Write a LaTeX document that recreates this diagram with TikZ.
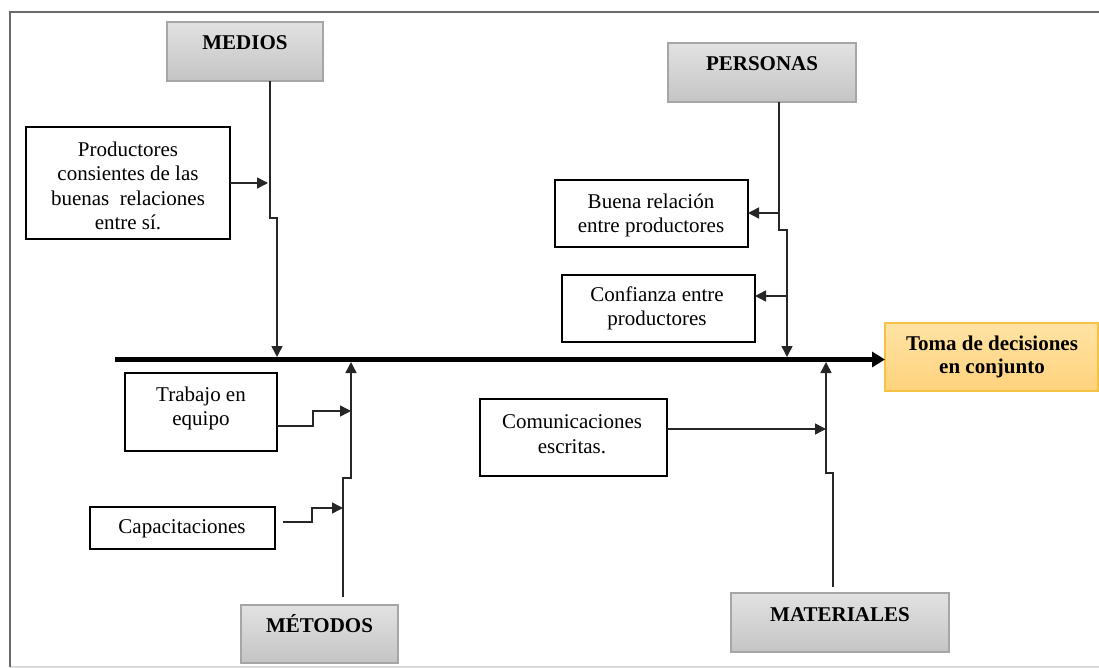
\documentclass[tikz,border=0pt]{standalone}
\usepackage{fontspec}
\setmainfont{Liberation Serif}
\usetikzlibrary{arrows.meta,calc}
\definecolor{framedark}{HTML}{6A6A6A}
\definecolor{framelight}{HTML}{DADADA}
\definecolor{headtop}{HTML}{E2E2E2}
\definecolor{headbot}{HTML}{C4C4C4}
\definecolor{headline}{HTML}{A6A6A6}
\definecolor{goaltop}{HTML}{FFE3A4}
\definecolor{goalbot}{HTML}{FFD27C}
\definecolor{goalline}{HTML}{F5C243}
\tikzset{
  every node/.style={font=\fontsize{21}{24.5}\selectfont},
  causebox/.style={draw=black, line width=1.4pt, fill=white, inner sep=0pt, outer sep=0pt, anchor=north west},
  headbox/.style={draw=headline, line width=1.2pt, top color=headtop, bottom color=headbot, inner sep=0pt, outer sep=0pt, anchor=north west},
  goalbox/.style={draw=goalline, line width=1.4pt, top color=goaltop, bottom color=goalbot, inner sep=0pt, outer sep=0pt, anchor=north west},
  txt/.style={inner sep=0pt, align=center},
  head/.style={inner sep=0pt, anchor=base, font=\fontsize{21}{24.5}\selectfont\bfseries},
  conn/.style={draw=black!85, line width=1.5pt},
  tip/.style={-{Triangle[length=11pt,width=11pt]}},
  spine/.style={line width=4.6pt, -{Triangle[length=13pt,width=15pt]}}
}
\begin{document}
\begin{tikzpicture}[x=1pt, y=-1pt]
\useasboundingbox (0,0) rectangle (1099,668);
% outer frame
\draw[framelight, line width=1.5pt] (10,667) -- (1099,667);
\draw[framedark, line width=2pt] (1099,12) -- (10,12) -- (10,667);

% category headers
\node[headbox, minimum width=156pt, minimum height=59pt] (medios) at (167,22) {};
\node[head] (mediosLbl) at (245,50) {MEDIOS};
\node[headbox, minimum width=188pt, minimum height=59pt] (personas) at (668,43) {};
\node[head] (personasLbl) at (762,71) {PERSONAS};
\node[headbox, minimum width=157pt, minimum height=58pt] (metodos) at (241,605) {};
\node[head] (metodosLbl) at (319.5,632) {MÉTODOS};
\node[headbox, minimum width=218pt, minimum height=59pt] (materiales) at (731,593) {};
\node[head] (materialesLbl) at (840,621) {MATERIALES};

% effect
\node[goalbox, minimum width=213pt, minimum height=68pt] (toma) at (885,323) {};
\node[txt, font=\fontsize{21}{22.5}\selectfont\bfseries] (tomaLbl) at (992,357) {Toma de decisiones\\en conjunto};

% causes
\node[causebox, minimum width=204pt, minimum height=112pt] (prod) at (26,127) {};
\node[txt] (prodLbl) at (128,186) {Productores\\consientes de las\\buenas\ \ relaciones\\entre sí.};
\node[causebox, minimum width=193pt, minimum height=67pt] (buena) at (555,180) {};
\node[txt] (buenaLbl) at (651,215.5) {Buena relación\\entre productores};
\node[causebox, minimum width=193pt, minimum height=67pt] (conf) at (562,275) {};
\node[txt] (confLbl) at (657,308.5) {Confianza entre\\productores};
\node[causebox, minimum width=152pt, minimum height=78pt] (trabajo) at (125,373) {};
\node[txt] (trabajoLbl) at (201,408.5) {Trabajo en\\equipo};
\node[causebox, minimum width=185pt, minimum height=42pt] (capac) at (90,507) {};
\node[txt] (capacLbl) at (182,529) {Capacitaciones};
\node[causebox, minimum width=187pt, minimum height=77pt] (com) at (480,399) {};
\node[txt] (comLbl) at (572,434) {Comunicaciones\\escritas.};

% spine
\coordinate (spineStart) at (115,359.5);
\draw[spine] (spineStart) -- (toma.west |- spineStart);

% branch joints
\coordinate (medJ) at (270,218);
\coordinate (medE) at (277,357);
\coordinate (perJ) at (779,230);
\coordinate (perE) at (787,357);
\coordinate (metS) at (343,597);
\coordinate (metJ) at (343,478);
\coordinate (metE) at (351,362);
\coordinate (matS) at (833,587);
\coordinate (matJ) at (833,473);
\coordinate (matE) at (826,362);

% MEDIOS branch
\draw[conn, tip] (medios.south -| medJ) -- (medJ) -- (medJ -| medE) -- (medE);
\draw[conn, tip] (prod.east) -- (prod.east -| 268,0);
% PERSONAS branch
\draw[conn, tip] (personas.south -| perJ) -- (perJ) -- (perJ -| perE) -- (perE);
\coordinate (buenaJ) at (779,213);
\draw[conn, tip] (buenaJ) -- (buena.east |- buenaJ);
\coordinate (confJ) at (787,296);
\draw[conn, tip] (confJ) -- (conf.east |- confJ);
% METODOS branch
\draw[conn, tip] (metS) -- (metJ) -- (metJ -| metE) -- (metE);
\coordinate (trabajoK) at (313,426);
\draw[conn, tip] (trabajo.east |- trabajoK) -- (trabajoK) -- (313,411) -- (351,411);
\coordinate (capacS) at (283,522);
\draw[conn, tip] (capacS) -- (312,522) -- (312,508) -- (343,508);
% MATERIALES branch
\draw[conn, tip] (matS) -- (matJ) -- (matJ -| matE) -- (matE);
\coordinate (comK) at (826,429);
\draw[conn, tip] (com.east |- comK) -- (comK);
\end{tikzpicture}
\end{document}
